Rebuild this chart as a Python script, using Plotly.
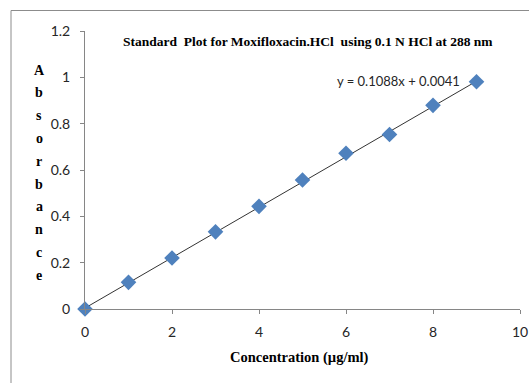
import plotly.graph_objects as go

concentration = [0, 1, 2, 3, 4, 5, 6, 7, 8, 9]
absorbance = [0.0, 0.115, 0.220, 0.333, 0.443, 0.557, 0.672, 0.753, 0.879, 0.981]
slope = 0.1088
intercept = 0.0041
equation_text = "y = 0.1088x + 0.0041"
title_text = "Standard  Plot for Moxifloxacin.HCl  using 0.1 N HCl at 288 nm"
x_title = "Concentration (µg/ml)"
y_title_letters = list("Absorbance")

trend_x = [concentration[0], concentration[-1]]
trend_y = [slope * v + intercept for v in trend_x]

fig = go.Figure()
fig.add_trace(go.Scatter(x=trend_x, y=trend_y, mode="lines",
                         line=dict(color="#333333", width=1), showlegend=False,
                         hoverinfo="skip"))
fig.add_trace(go.Scatter(x=concentration, y=absorbance, mode="markers",
                         marker=dict(symbol="diamond", size=12, color="#4F81BD",
                                     line=dict(width=0)),
                         showlegend=False, cliponaxis=False))

L, R, T, B = 85, 9, 31, 74
W, H = 529, 383
pw, ph = W - L - R, H - T - B

def px_x(p):
    return (p - L) / pw

def px_y(p):
    return 1 - (p - T) / ph

axis_color = "#868686"
tick_font = dict(family="Lato, Liberation Sans, sans-serif", size=14, color="#262626")

fig.update_layout(
    width=W, height=H,
    margin=dict(l=L, r=R, t=T, b=B, autoexpand=False),
    paper_bgcolor="white", plot_bgcolor="white",
    xaxis=dict(range=[0, 10], dtick=2, tick0=0, showgrid=False, zeroline=False,
               showline=True, linecolor=axis_color, linewidth=1,
               ticks="outside", ticklen=4, tickcolor=axis_color,
               ticklabelstandoff=6, automargin=False,
               tickfont=tick_font, fixedrange=True),
    yaxis=dict(range=[0, 1.2], dtick=0.2, tick0=0, showgrid=False, zeroline=False,
               showline=True, linecolor=axis_color, linewidth=1,
               ticks="outside", ticklen=4, tickcolor=axis_color,
               ticklabelstandoff=7, automargin=False,
               tickfont=tick_font, fixedrange=True),
    shapes=[dict(type="rect", xref="paper", yref="paper",
                 x0=px_x(11), x1=px_x(560), y0=px_y(420), y1=px_y(10.5),
                 line=dict(color="#8c8c8c", width=1), fillcolor="rgba(0,0,0,0)",
                 layer="below")],
)

serif_bold = dict(family="Liberation Serif, Times New Roman, serif", size=13.5, color="black")

annotations = [
    dict(text="<b>" + title_text + "</b>", xref="paper", yref="paper",
         x=px_x(308), y=px_y(41), xanchor="center", yanchor="middle",
         showarrow=False, font=serif_bold),
    dict(text="<b>" + x_title + "</b>", xref="paper", yref="paper",
         x=px_x(299), y=px_y(357), xanchor="center", yanchor="middle",
         showarrow=False, font=dict(family="Liberation Serif, serif", size=14.5, color="black")),
    dict(text=equation_text, xref="x", yref="y", x=8.66, y=0.985,
         xanchor="right", yanchor="middle", showarrow=False,
         font=dict(family="Lato, Liberation Sans, sans-serif", size=13, color="#262626")),
]
for i, ch in enumerate(y_title_letters):
    annotations.append(dict(text="<b>" + ch + "</b>", xref="paper", yref="paper",
                            x=px_x(39), y=px_y(70 + i * 22.8), xanchor="center",
                            yanchor="middle", showarrow=False,
                            font=dict(family="Liberation Serif, serif", size=14, color="black")))
fig.update_layout(annotations=annotations)

fig.write_html("out.html")
